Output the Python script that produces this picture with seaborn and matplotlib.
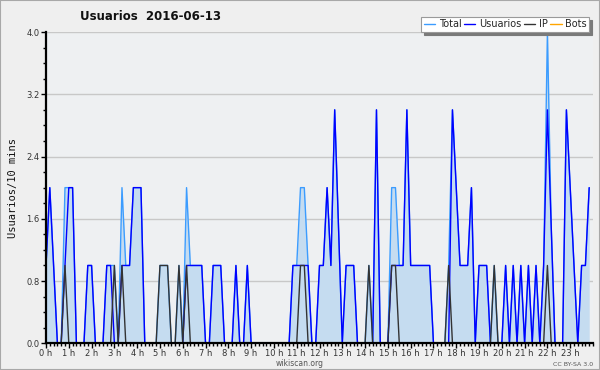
import numpy as np
import pandas as pd
import matplotlib
matplotlib.use("Agg")
import matplotlib.pyplot as plt
import seaborn as sns
from matplotlib.ticker import MultipleLocator
from matplotlib.patches import Rectangle

# ---- data: one value per 10 minutes (144 slots) ----
usuarios = [
    1, 2, 1, 0, 0, 1, 2, 2, 0, 0, 0, 1,
    1, 0, 0, 0, 1, 1, 0, 0, 1, 1, 1, 2,
    2, 2, 0, 0, 0, 0, 0, 0, 0, 0, 0, 0,
    0, 1, 1, 1, 1, 1, 0, 0, 1, 1, 1, 0,
    0, 0, 1, 0, 0, 1, 0, 0, 0, 0, 0, 0,
    0, 0, 0, 0, 0, 1, 1, 1, 1, 1, 0, 0,
    1, 1, 2, 1, 3, 1.5, 0, 1, 1, 1, 0, 0,
    0, 0, 0, 3, 0, 0, 0, 1, 1, 1, 1, 3,
    1, 1, 1, 1, 1, 1, 0, 0, 0, 0, 0, 3,
    2, 1, 1, 1, 2, 0, 1, 1, 1, 0, 0, 0,
    0, 1, 0, 1, 0, 1, 0, 1, 0, 1, 0, 1,
    3, 1.5, 0, 0, 0, 3, 2, 1, 0, 1, 1, 2,
]
ip = [
    0, 0, 0, 0, 0, 1, 0, 0, 0, 0, 0, 0,
    0, 0, 0, 0, 0, 0, 1, 0, 1, 0, 0, 0,
    0, 0, 0, 0, 0, 0, 1, 1, 1, 0, 0, 1,
    0, 1, 0, 0, 0, 0, 0, 0, 0, 0, 0, 0,
    0, 0, 0, 0, 0, 0, 0, 0, 0, 0, 0, 0,
    0, 0, 0, 0, 0, 0, 0, 1, 1, 0, 0, 0,
    0, 0, 0, 0, 0, 0, 0, 0, 0, 0, 0, 0,
    0, 1, 0, 0, 0, 0, 0, 1, 1, 0, 0, 0,
    0, 0, 0, 0, 0, 0, 0, 0, 0, 0, 1, 0,
    0, 0, 0, 0, 0, 0, 0, 0, 0, 0, 1, 0,
    0, 0, 0, 0, 0, 0, 0, 0, 0, 0, 0, 0,
    1, 0, 0, 0, 0, 0, 0, 0, 0, 0, 0, 0,
]
total = [
    1, 2, 1, 0, 0, 2, 2, 2, 0, 0, 0, 1,
    1, 0, 0, 0, 1, 1, 1, 0, 2, 1, 1, 2,
    2, 2, 0, 0, 0, 0, 1, 1, 1, 0, 0, 1,
    0, 2, 1, 1, 1, 1, 0, 0, 1, 1, 1, 0,
    0, 0, 1, 0, 0, 1, 0, 0, 0, 0, 0, 0,
    0, 0, 0, 0, 0, 1, 1, 2, 2, 1, 0, 0,
    1, 1, 2, 1, 3, 1.5, 0, 1, 1, 1, 0, 0,
    0, 1, 0, 3, 0, 0, 0, 2, 2, 1, 1, 3,
    1, 1, 1, 1, 1, 1, 0, 0, 0, 0, 1, 3,
    2, 1, 1, 1, 2, 0, 1, 1, 1, 0, 1, 0,
    0, 1, 0, 1, 0, 1, 0, 1, 0, 1, 0, 1,
    4, 1.5, 0, 0, 0, 3, 2, 1, 0, 1, 1, 2,
]
bots = [
    0, 0, 0, 0, 0, 0, 0, 0, 0, 0, 0, 0,
    0, 0, 0, 0, 0, 0, 0, 0, 0, 0, 0, 0,
    0, 0, 0, 0, 0, 0, 0, 0, 0, 0, 0, 0,
    0, 0, 0, 0, 0, 0, 0, 0, 0, 0, 0, 0,
    0, 0, 0, 0, 0, 0, 0, 0, 0, 0, 0, 0,
    0, 0, 0, 0, 0, 0, 0, 0, 0, 0, 0, 0,
    0, 0, 0, 0, 0, 0, 0, 0, 0, 0, 0, 0,
    0, 0, 0, 0, 0, 0, 0, 0, 0, 0, 0, 0,
    0, 0, 0, 0, 0, 0, 0, 0, 0, 0, 0, 0,
    0, 0, 0, 0, 0, 0, 0, 0, 0, 0, 0, 0,
    0, 0, 0, 0, 0, 0, 0, 0, 0, 0, 0, 0,
    0, 0, 0, 0, 0, 0, 0, 0, 0, 0, 0, 0,
]
hour_labels = [f"{h} h" for h in range(24)]
y_ticks = [0.0, 0.8, 1.6, 2.4, 3.2, 4.0]
title = "Usuarios  2016-06-13"

hours = np.arange(len(total)) / 6.0
df = pd.DataFrame({"h": hours, "Total": total, "Usuarios": usuarios, "IP": ip, "Bots": bots})

sns.set_style("white")
plt.rcParams["font.family"] = ["DejaVu Sans"]

fig = plt.figure(figsize=(6.0, 3.7), dpi=100)
fig.patch.set_facecolor("#efefef")
fig.patches.append(Rectangle((0, 0), 1, 1, transform=fig.transFigure,
                             fill=False, edgecolor="#a8a8a8", linewidth=1.5))

ax = fig.add_axes([46 / 600, 1 - 343.3 / 370, (593 - 46) / 600, (343.3 - 32) / 370])
ax.set_facecolor("#eef0f2")

colors = {"Total": "#3b9cff", "Usuarios": "#0000ff", "IP": "#333333", "Bots": "#ffa500"}

ax.fill_between(df["h"], df["Total"], 0, color="#c5dcf0", linewidth=0, zorder=1)
for name in ["Total", "Usuarios", "IP", "Bots"]:
    sns.lineplot(data=df, x="h", y=name, ax=ax, color=colors[name], linewidth=1.0,
                 label=name, legend=False, zorder=3)

ax.set_xlim(0, 24)
ax.set_ylim(0, 4.0)
ax.set_yticks(y_ticks)
ax.set_yticklabels([f"{v:.1f}" for v in y_ticks])
ax.yaxis.set_minor_locator(MultipleLocator(0.2))
ax.set_xticks(np.arange(24))
ax.set_xticklabels(hour_labels)
ax.xaxis.set_minor_locator(MultipleLocator(1 / 6))
ax.grid(axis="y", color="#c8c8c8", linewidth=1.0, zorder=0)
ax.set_axisbelow(True)

for s in ["top", "right"]:
    ax.spines[s].set_visible(False)
for s in ["left", "bottom"]:
    ax.spines[s].set_color("black")
    ax.spines[s].set_linewidth(1.6)
    ax.spines[s].set_zorder(6)

ax.tick_params(axis="both", which="major", direction="out", length=3.5, width=1,
               color="black", labelsize=6, labelcolor="#333333", pad=1)
ax.tick_params(axis="x", which="major", pad=0.5)
ax.tick_params(axis="both", which="minor", direction="out", length=2.5, width=1, color="black")
ax.tick_params(axis="x", which="both", bottom=True)
ax.tick_params(axis="y", which="both", left=True)

ax.set_xlabel("")
ax.set_ylabel("Usuarios/10 mins", family="DejaVu Sans Mono", fontsize=7.5, color="#111111", labelpad=6)

fig.text(151 / 600, 1 - 17 / 370, title, ha="center", va="center",
         fontsize=8.5, fontweight="bold", color="#111111")
fig.text(300 / 600, 1 - 363 / 370, "wikiscan.org", ha="center", va="center",
         fontsize=5.5, color="#555555")
fig.text(593 / 600, 1 - 364 / 370, "CC BY-SA 3.0", ha="right", va="center",
         fontsize=4.5, color="#555555")

handles, labels = ax.get_legend_handles_labels()
leg = fig.legend(handles, labels, loc="upper right", bbox_to_anchor=(589 / 600, 1 - 17 / 370),
                 ncol=4, fontsize=7, frameon=True, fancybox=False,
                 shadow={"color": "#7a7a7a", "alpha": 1},
                 handlelength=1.2, handletextpad=0.35, columnspacing=0.25,
                 borderpad=0.25, borderaxespad=0)
leg.get_frame().set_edgecolor("#9a9a9a")
leg.get_frame().set_linewidth(0.8)
leg.get_frame().set_facecolor("white")
for line in leg.get_lines():
    line.set_linewidth(1.0)

fig.savefig("out.png", dpi=100, facecolor=fig.get_facecolor())
